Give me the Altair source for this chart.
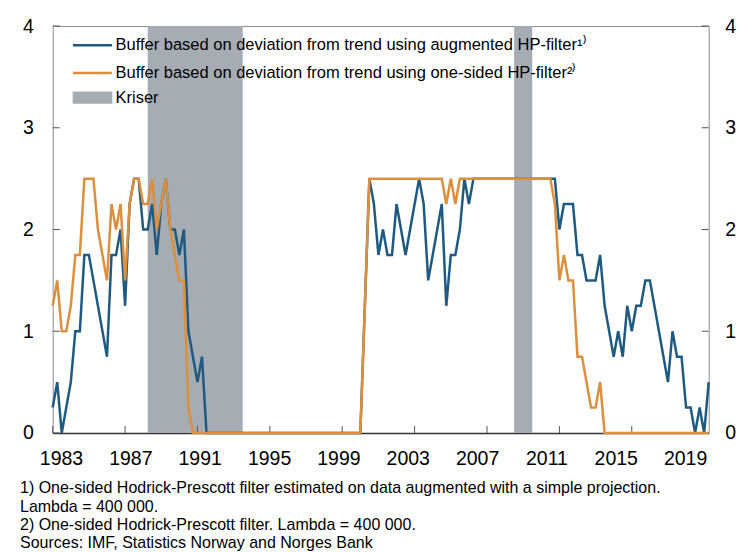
import altair as alt
import pandas as pd

# ---------------- data (quarterly, 1983Q1 - 2019Q2) ----------------
start_year = 1983
blue_vals = [
    0.25, 0.5, 0.0, 0.25, 0.5, 1.0, 1.0, 1.75, 1.75, 1.5,
    1.25, 1.0, 0.75, 1.75, 1.75, 2.0, 1.25, 2.25, 2.5, 2.5,
    2.0, 2.0, 2.25, 1.75, 2.25, 2.5, 2.0, 2.0, 1.75, 2.0,
    1.0, 0.75, 0.5, 0.75, 0.0, 0.0, 0.0, 0.0, 0.0, 0.0,
    0.0, 0.0, 0.0, 0.0, 0.0, 0.0, 0.0, 0.0, 0.0, 0.0,
    0.0, 0.0, 0.0, 0.0, 0.0, 0.0, 0.0, 0.0, 0.0, 0.0,
    0.0, 0.0, 0.0, 0.0, 0.0, 0.0, 0.0, 0.0, 0.0, 1.25,
    2.5, 2.25, 1.75, 2.0, 1.75, 1.75, 2.25, 2.0, 1.75, 2.0,
    2.25, 2.5, 2.25, 1.5, 1.75, 2.0, 2.25, 1.25, 1.75, 1.75,
    2.0, 2.5, 2.25, 2.5, 2.5, 2.5, 2.5, 2.5, 2.5, 2.5,
    2.5, 2.5, 2.5, 2.5, 2.5, 2.5, 2.5, 2.5, 2.5, 2.5,
    2.5, 2.5, 2.0, 2.25, 2.25, 2.25, 1.75, 1.75, 1.5, 1.5,
    1.5, 1.75, 1.25, 1.0, 0.75, 1.0, 0.75, 1.25, 1.0, 1.25,
    1.25, 1.5, 1.5, 1.25, 1.0, 0.75, 0.5, 1.0, 0.75, 0.75,
    0.25, 0.25, 0.0, 0.25, 0.0, 0.5,
]
orange_vals = [
    1.25, 1.5, 1.0, 1.0, 1.25, 1.75, 1.75, 2.5, 2.5, 2.5,
    2.0, 1.75, 1.5, 2.25, 2.0, 2.25, 1.5, 2.25, 2.5, 2.5,
    2.25, 2.25, 2.5, 2.0, 2.25, 2.5, 2.0, 1.75, 1.5, 1.5,
    0.25, 0.0, 0.0, 0.0, 0.0, 0.0, 0.0, 0.0, 0.0, 0.0,
    0.0, 0.0, 0.0, 0.0, 0.0, 0.0, 0.0, 0.0, 0.0, 0.0,
    0.0, 0.0, 0.0, 0.0, 0.0, 0.0, 0.0, 0.0, 0.0, 0.0,
    0.0, 0.0, 0.0, 0.0, 0.0, 0.0, 0.0, 0.0, 0.0, 1.25,
    2.5, 2.5, 2.5, 2.5, 2.5, 2.5, 2.5, 2.5, 2.5, 2.5,
    2.5, 2.5, 2.5, 2.5, 2.5, 2.5, 2.5, 2.25, 2.5, 2.25,
    2.5, 2.5, 2.5, 2.5, 2.5, 2.5, 2.5, 2.5, 2.5, 2.5,
    2.5, 2.5, 2.5, 2.5, 2.5, 2.5, 2.5, 2.5, 2.5, 2.5,
    2.5, 2.25, 1.5, 1.75, 1.5, 1.5, 0.75, 0.75, 0.5, 0.25,
    0.25, 0.5, 0.0, 0.0, 0.0, 0.0, 0.0, 0.0, 0.0, 0.0,
    0.0, 0.0, 0.0, 0.0, 0.0, 0.0, 0.0, 0.0, 0.0, 0.0,
    0.0, 0.0, 0.0, 0.0, 0.0, 0.0,
]
crisis_start = [1988.25, 2008.5]
crisis_end = [1993.5, 2009.5]
crisis_label = "Kriser"
tick_years = [1983, 1987, 1991, 1995, 1999, 2003, 2007, 2011, 2015, 2019]
y_ticks = [0, 1, 2, 3, 4]
series_names = [
    "Buffer based on deviation from trend using augmented HP-filter\u00b9\u207e",
    "Buffer based on deviation from trend using one-sided HP-filter\u00b2\u207e",
]
footnotes = [
    "1) One-sided Hodrick-Prescott filter estimated on data augmented with a simple projection.",
    "Lambda = 400 000.",
    "2) One-sided Hodrick-Prescott filter. Lambda = 400 000.",
    "Sources: IMF, Statistics Norway and Norges Bank",
]

# ---------------- styling ----------------
BLUE = "#1f5b80"
ORANGE = "#dc8f3c"
GRAY = "#a5acb3"
TICK = "#555555"
FONT = "Liberation Sans"
W, H = 656, 407
TL = 7  # inward tick length (px)

n = len(blue_vals)
quarters = [start_year + i / 4 for i in range(n)]
df = pd.DataFrame({
    "t": quarters + quarters,
    "value": blue_vals + orange_vals,
    "series": [series_names[0]] * n + [series_names[1]] * n,
})
crisis_df = pd.DataFrame({"start": crisis_start, "end": crisis_end,
                          "label": [crisis_label] * len(crisis_start)})
xt_df = pd.DataFrame({"yr": tick_years})
yt_df = pd.DataFrame({"v": y_ticks})

xscale = alt.Scale(domain=[quarters[0], quarters[-1]], nice=False, zero=False)
yscale = alt.Scale(domain=[0, 4], nice=False, zero=False)

y_left_axis = alt.Axis(orient="left", values=y_ticks, domain=False, grid=False, ticks=False,
                       labelPadding=19.4, labelFontSize=19.5, title=None)

rect = alt.Chart(crisis_df).mark_rect(opacity=1).encode(
    x=alt.X("start:Q", scale=xscale, axis=None),
    x2="end:Q",
    y=alt.Y(datum=4, scale=yscale, axis=y_left_axis),
    y2=alt.Y2(datum=0),
    fill=alt.Fill("label:N", scale=alt.Scale(domain=[crisis_label], range=[GRAY]),
                  legend=alt.Legend(title=None, orient="none", legendX=31.5, legendY=63.3,
                                    symbolType="M-2.95,-0.92H2.95V0.92H-2.95Z",
                                    symbolSize=180, symbolStrokeWidth=0,
                                    labelFontSize=16.5, labelOffset=14.8,
                                    labelLimit=1000, padding=0)),
)

color = alt.Color("series:N", scale=alt.Scale(domain=series_names, range=[BLUE, ORANGE]),
                  legend=alt.Legend(title=None, orient="none", legendX=31.5, legendY=11,
                                    symbolType="M-2.9,0H2.9", symbolSize=180,
                                    symbolStrokeWidth=2.5, labelFontSize=16.5,
                                    labelOffset=14.8, rowPadding=10.7,
                                    labelLimit=1000, padding=0))


def line_layer(name):
    return alt.Chart(df).transform_filter(alt.datum.series == name).mark_line(
        strokeWidth=2.5).encode(
        x=alt.X("t:Q", scale=xscale, axis=None),
        y=alt.Y("value:Q", scale=yscale, axis=y_left_axis),
        color=color,
    )


# inward tick marks
xticks = alt.Chart(xt_df).mark_rule(color=TICK, strokeWidth=1).encode(
    x=alt.X("yr:Q", scale=xscale, axis=None),
    y=alt.value(H), y2=alt.value(H - TL),
)
yticks_l = alt.Chart(yt_df).mark_rule(color=TICK, strokeWidth=1).encode(
    y=alt.Y("v:Q", scale=yscale, axis=y_left_axis),
    x=alt.value(0), x2=alt.value(TL),
)
yticks_r = alt.Chart(yt_df).mark_rule(color=TICK, strokeWidth=1).encode(
    y=alt.Y("v:Q", scale=yscale, axis=y_left_axis),
    x=alt.value(W - TL), x2=alt.value(W),
)

main = alt.layer(rect, xticks, yticks_l, yticks_r,
                 line_layer(series_names[0]), line_layer(series_names[1]))

xlab = alt.Chart(xt_df).mark_point(opacity=0).encode(
    x=alt.X("yr:Q", scale=alt.Scale(domain=[1982.52, 2020.36], nice=False, zero=False),
            axis=alt.Axis(orient="bottom", values=tick_years, format="d", ticks=False,
                          grid=False, domain=True, domainColor="#333333", domainWidth=1.5,
                          labelFontSize=19.5, labelPadding=17, labelFlush=False,
                          labelOverlap=False, title=None)),
)

yright = alt.Chart(yt_df).mark_point(opacity=0).encode(
    y=alt.Y("v:Q", scale=yscale,
            axis=alt.Axis(orient="right", values=y_ticks, domain=False, grid=False,
                          ticks=False, labelPadding=16, labelFontSize=19.5, title=None)),
)

chart = alt.layer(main, xlab, yright).resolve_scale(
    x="independent"
).resolve_axis(
    x="independent", y="independent"
).properties(
    width=W, height=H,
    autosize=alt.AutoSizeParams(type="none"),
    padding={"left": 44.7, "top": 18, "right": 27, "bottom": 124},
    title=alt.TitleParams(text=footnotes, orient="bottom", anchor="start", frame="group",
                          fontSize=16, font=FONT, fontWeight="normal", lineHeight=18.3,
                          dx=-32.7, offset=12, color="black"),
).configure_view(
    stroke="#8c8c8c", strokeWidth=1
).configure_axis(
    labelFont=FONT, labelColor="black"
).configure_legend(
    labelFont=FONT, labelColor="black"
)

chart.save("out.html", embed_options={"renderer": "svg", "actions": False})
